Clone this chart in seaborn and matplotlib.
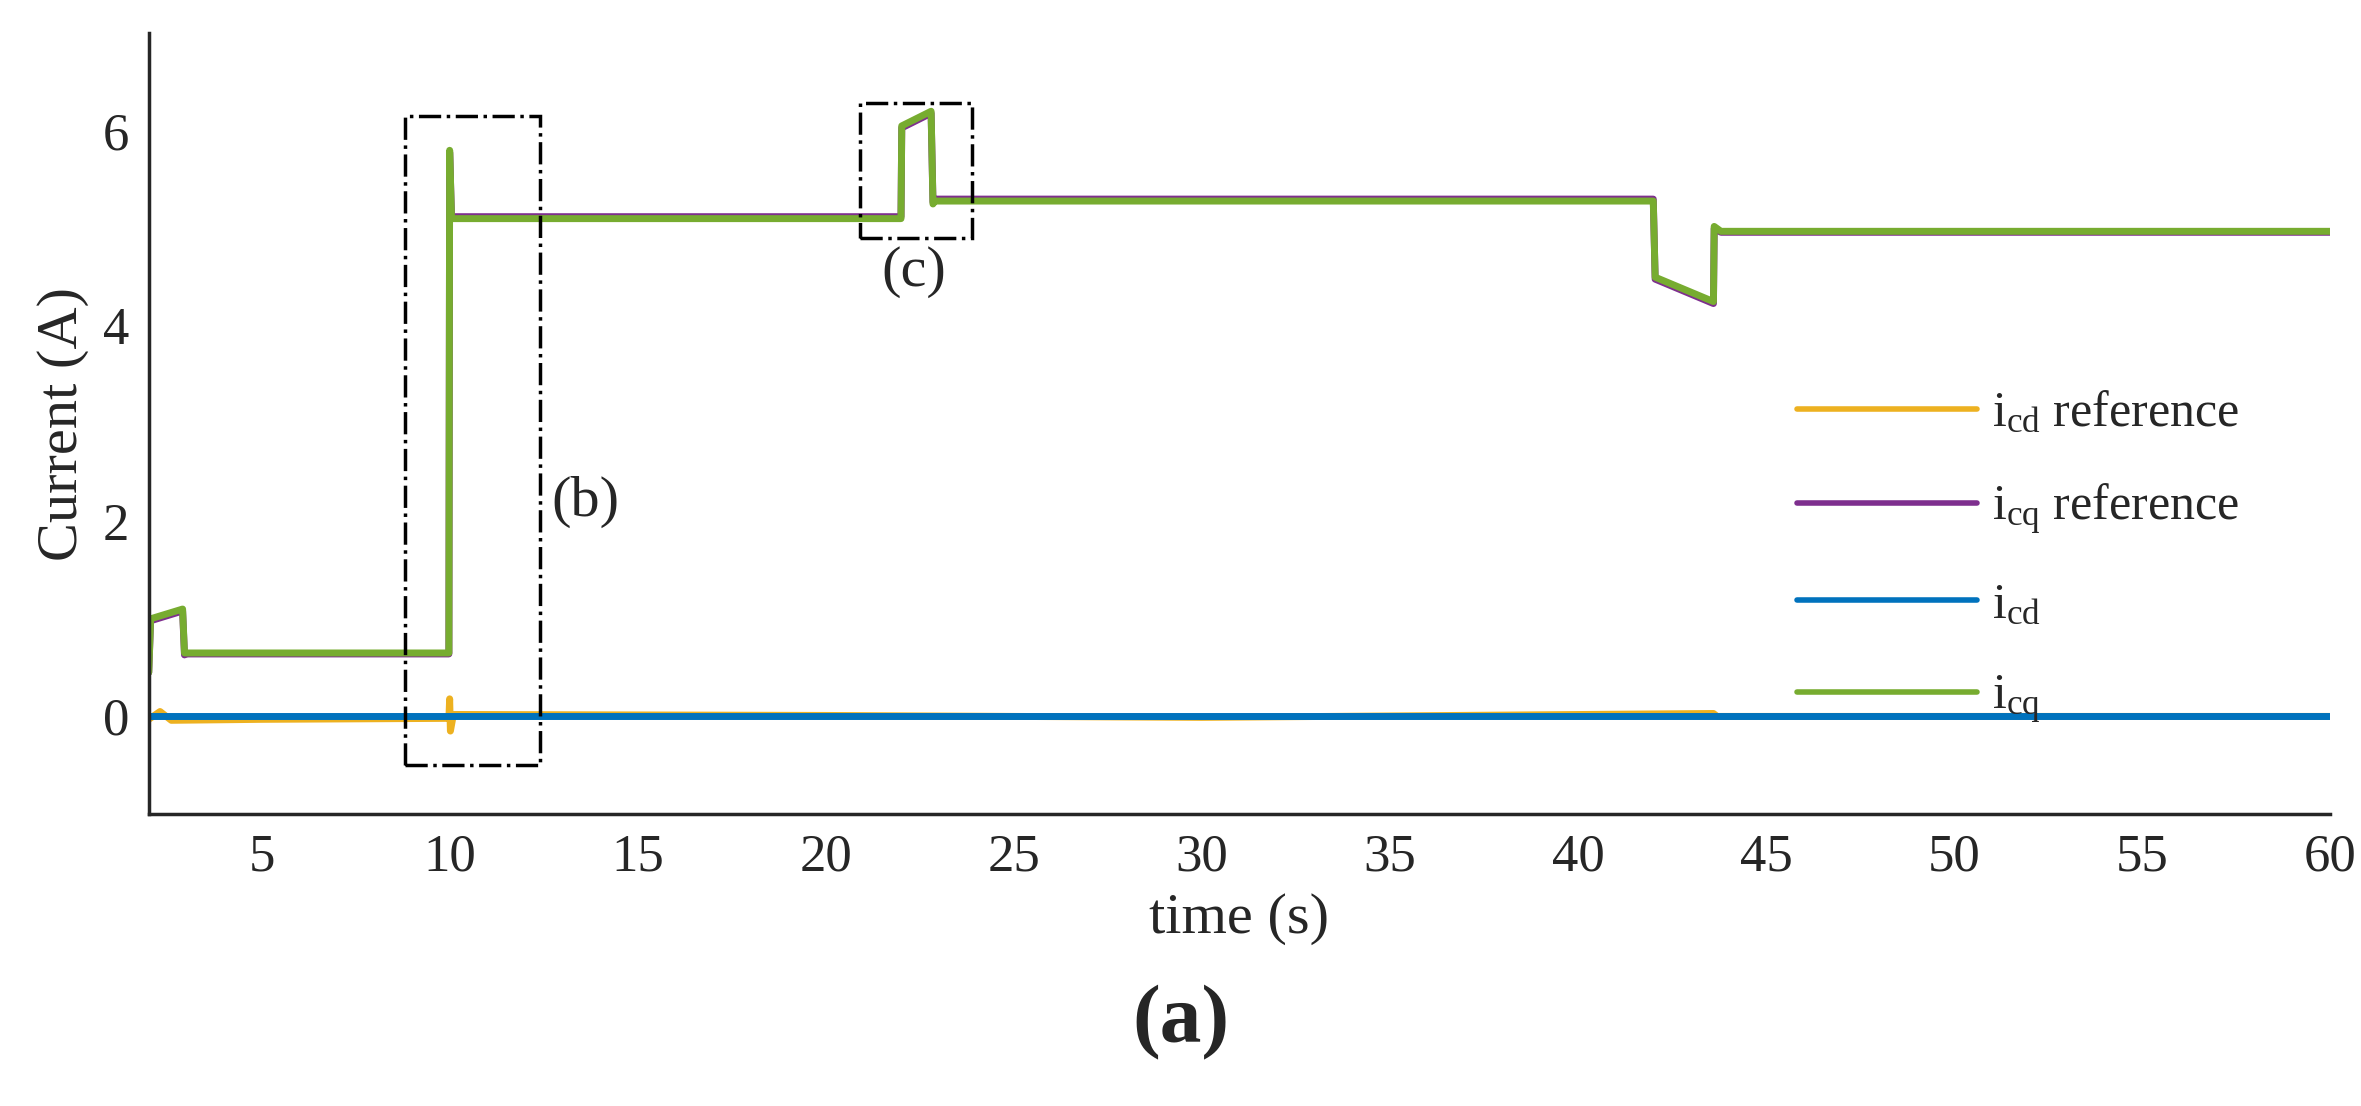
import matplotlib
matplotlib.use("Agg")
import matplotlib.pyplot as plt
import seaborn as sns
import pandas as pd
from matplotlib.patches import Rectangle

# data
t_q = [2.0, 2.05, 2.9, 2.95, 3.0, 9.98, 10.0, 10.05, 10.2, 22.0, 22.02, 22.8, 22.85, 22.9, 42.0, 42.05, 43.6, 43.62, 43.8, 60.0]
icq = [0.45, 1.0, 1.1, 0.65, 0.65, 0.65, 5.8, 5.1, 5.1, 5.1, 6.05, 6.2, 5.25, 5.28, 5.28, 4.5, 4.25, 5.02, 4.97, 4.97]
icq_ref = [0.45, 0.98, 1.08, 0.63, 0.64, 0.64, 5.78, 5.12, 5.12, 5.12, 6.03, 6.18, 5.27, 5.3, 5.3, 4.48, 4.23, 5.0, 4.96, 4.96]
t_d = [2.0, 2.3, 2.6, 5.0, 9.98, 10.0, 10.02, 10.1, 20.0, 30.0, 43.6, 43.7, 60.0]
icd_ref = [-0.03, 0.05, -0.04, -0.03, -0.02, 0.18, -0.15, 0.02, 0.01, -0.01, 0.03, 0.0, 0.0]
icd = [0.0, 0.0, 0.0, 0.0, 0.0, 0.0, 0.0, 0.0, 0.0, 0.0, 0.0, 0.0, 0.0]

labels = [r"$\mathregular{i_{cd}}$ reference", r"$\mathregular{i_{cq}}$ reference",
          r"$\mathregular{i_{cd}}$", r"$\mathregular{i_{cq}}$"]
colors = ["#EDB120", "#7E2F8E", "#0072BD", "#77AC30"]

sns.set_theme(style="white")
plt.rcParams['font.family'] = ['Liberation Serif', 'DejaVu Serif']
plt.rcParams['mathtext.fontset'] = 'custom'
plt.rcParams['mathtext.rm'] = 'Liberation Serif'

fig = plt.figure(figsize=(23.61, 11.06), dpi=100)
ax = fig.add_axes([0.063, 0.264, 0.924, 0.706])

series = [(t_d, icd_ref), (t_q, icq_ref), (t_d, icd), (t_q, icq)]
for (tx, yv), lab, c in zip(series, labels, colors):
    df = pd.DataFrame({"t": tx, "v": yv})
    sns.lineplot(data=df, x="t", y="v", ax=ax, color=c, lw=5, label=lab,
                 estimator=None, sort=False)

ax.set_xlim(2, 60)
ax.set_ylim(-1, 7)
ax.set_xticks(range(5, 61, 5))
ax.set_yticks([0, 2, 4, 6])
ax.tick_params(direction="in", length=12, width=2.5, labelsize=38, colors="#262626", pad=14)
for s in ["top", "right"]:
    ax.spines[s].set_visible(False)
for s in ["left", "bottom"]:
    ax.spines[s].set_linewidth(2.5)
    ax.spines[s].set_color("#262626")
ax.set_xlabel("time (s)", fontsize=42, labelpad=8)
ax.set_ylabel("Current (A)", fontsize=42, labelpad=10)

for (x0, y0, w, h) in [(8.8, -0.5, 3.6, 6.65), (20.9, 4.9, 3.0, 1.38)]:
    ax.add_patch(Rectangle((x0, y0), w, h, fill=False, ec="black", lw=2.5, ls="-.", zorder=5))
ax.text(12.7, 2.2, "(b)", fontsize=42, ha="left", va="center")
ax.text(22.35, 4.55, "(c)", fontsize=42, ha="center", va="center")

leg = ax.legend(loc="upper left", bbox_to_anchor=(0.735, 0.6), frameon=False, fontsize=36,
                handlelength=3.6, labelspacing=0.9, handletextpad=0.3)
for l in leg.get_lines():
    l.set_linewidth(4)

fig.text(0.5, 0.075, "(a)", fontsize=60, fontweight="bold", ha="center", va="center")
fig.savefig("out.png", dpi=100, facecolor="white")
